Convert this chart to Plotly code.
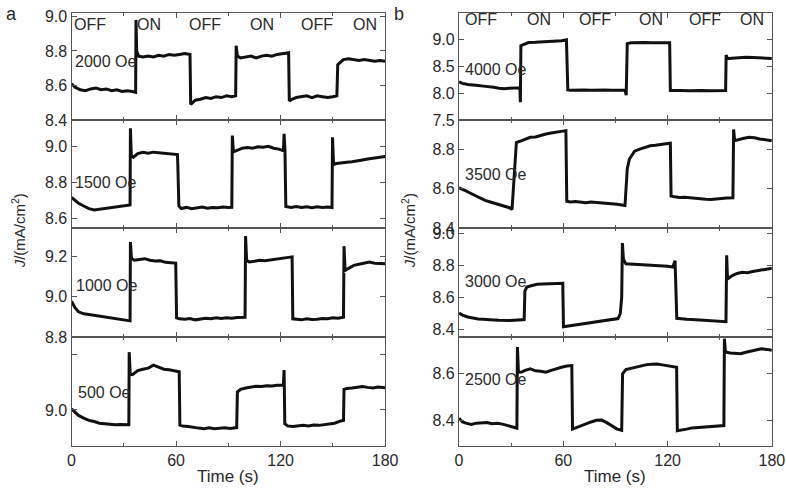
import plotly.graph_objects as go

# current density J (mA/cm^2) vs time (s)
oe2000 = [(0, 8.61), (2, 8.59), (5, 8.575), (8, 8.57), (11, 8.58), (14, 8.585), (17, 8.575), (20, 8.58),
          (23, 8.57), (26, 8.575), (29, 8.565), (32, 8.57), (35, 8.565), (36.8, 8.56), (37.0, 8.98), (37.4, 8.80),
          (38.5, 8.77), (41, 8.765), (44, 8.77), (47, 8.765), (50, 8.775), (53, 8.77), (56, 8.78), (59, 8.775),
          (62, 8.78), (65, 8.785), (68.0, 8.78), (68.4, 8.49), (69.5, 8.50), (71, 8.515), (74, 8.52), (77, 8.53),
          (80, 8.525), (83, 8.535), (86, 8.53), (89, 8.54), (92, 8.535), (94.2, 8.54), (94.5, 8.83), (95.2, 8.77),
          (97, 8.76), (100, 8.765), (103, 8.77), (106, 8.76), (109, 8.77), (112, 8.775), (115, 8.77), (118, 8.78),
          (121, 8.785), (124.6, 8.79), (125.0, 8.51), (126.5, 8.52), (129, 8.53), (132, 8.535), (135, 8.54),
          (138, 8.53), (141, 8.54), (144, 8.535), (147, 8.53), (150, 8.535), (152.3, 8.54), (152.8, 8.72),
          (154, 8.73), (156, 8.75), (159, 8.755), (162, 8.75), (165, 8.745), (168, 8.75), (171, 8.745),
          (174, 8.74), (177, 8.745), (180, 8.74)]

oe1500 = [(0, 8.717), (2, 8.70), (4, 8.685), (7, 8.67), (10, 8.655), (13, 8.648), (16, 8.652), (19, 8.655),
          (22, 8.656), (25, 8.662), (28, 8.668), (31, 8.672), (33.6, 8.675), (33.8, 9.10), (34.3, 8.95),
          (35.5, 8.94), (38, 8.96), (41, 8.967), (44, 8.962), (47, 8.968), (50, 8.965), (53, 8.962), (56, 8.96),
          (59, 8.957), (60.8, 8.955), (61.0, 8.90), (61.6, 8.67), (63, 8.656), (66, 8.662), (69, 8.655),
          (72, 8.66), (75, 8.664), (78, 8.658), (81, 8.662), (84, 8.66), (87, 8.664), (90, 8.661), (92.0, 8.662),
          (92.3, 9.06), (92.9, 8.97), (95, 8.978), (98, 8.99), (101, 8.994), (104, 8.99), (107, 8.998),
          (110, 8.995), (113, 9.0), (116, 8.99), (119, 8.985), (121.6, 8.976), (122.0, 9.07), (122.5, 8.98),
          (123.0, 8.667), (126, 8.662), (129, 8.667), (132, 8.662), (135, 8.665), (138, 8.66), (141, 8.665),
          (144, 8.662), (147, 8.664), (149.5, 8.661), (149.8, 9.05), (150.4, 8.90), (152, 8.905), (155, 8.91),
          (158, 8.912), (161, 8.915), (164, 8.918), (167, 8.925), (170, 8.93), (173, 8.935), (176, 8.94),
          (180, 8.944)]

oe1000 = [(0, 8.977), (2, 8.945), (4, 8.925), (7, 8.915), (10, 8.912), (13, 8.908), (16, 8.905), (19, 8.90),
          (22, 8.898), (25, 8.893), (28, 8.888), (31, 8.884), (33.6, 8.88), (33.8, 9.27), (34.4, 9.19),
          (36, 9.18), (39, 9.185), (42, 9.188), (45, 9.18), (48, 9.176), (51, 9.178), (54, 9.17), (57, 9.168),
          (59.8, 9.166), (60.3, 8.895), (62, 8.89), (65, 8.888), (68, 8.892), (71, 8.885), (74, 8.89),
          (77, 8.893), (80, 8.89), (83, 8.895), (86, 8.892), (89, 8.895), (92, 8.893), (95, 8.897),
          (99.6, 8.898), (99.9, 9.30), (100.5, 9.18), (102, 9.172), (105, 9.175), (108, 9.18), (111, 9.178),
          (114, 9.182), (117, 9.186), (120, 9.19), (123, 9.193), (126.6, 9.197), (127.0, 8.89), (129, 8.888),
          (132, 8.885), (135, 8.89), (138, 8.887), (141, 8.888), (144, 8.892), (147, 8.89), (150, 8.895),
          (153, 8.893), (156.1, 8.898), (156.4, 9.25), (157, 9.13), (159, 9.14), (162, 9.155), (165, 9.16),
          (168, 9.165), (171, 9.171), (174, 9.165), (177, 9.163), (180, 9.163)]

oe500 = [(0, 9.004), (2, 8.99), (4, 8.98), (7, 8.97), (10, 8.962), (13, 8.958), (16, 8.952), (19, 8.95),
         (22, 8.948), (25, 8.946), (28, 8.947), (31, 8.945), (32.9, 8.946), (33.1, 9.21), (33.7, 9.13),
         (35, 9.128), (38, 9.143), (41, 9.148), (44, 9.152), (47, 9.163), (50, 9.155), (53, 9.148), (56, 9.146),
         (59, 9.142), (61.8, 9.139), (62.2, 8.945), (64, 8.942), (67, 8.94), (70, 8.936), (73, 8.934),
         (76, 8.932), (79, 8.935), (82, 8.932), (85, 8.934), (88, 8.935), (91, 8.933), (94.8, 8.936),
         (95.2, 9.065), (97, 9.075), (100, 9.08), (103, 9.083), (106, 9.086), (109, 9.085), (112, 9.088),
         (115, 9.087), (118, 9.09), (121.6, 9.09), (122.0, 9.145), (122.4, 8.95), (124, 8.942), (127, 8.94),
         (130, 8.942), (133, 8.944), (136, 8.942), (139, 8.945), (142, 8.944), (145, 8.946), (148, 8.948),
         (151, 8.952), (155, 8.961), (156.1, 8.962), (156.4, 9.075), (158, 9.078), (161, 9.08), (164, 9.083),
         (167, 9.085), (170, 9.082), (173, 9.08), (176, 9.083), (180, 9.081)]

oe4000 = [(0, 8.21), (2, 8.18), (5, 8.16), (8, 8.145), (11, 8.14), (14, 8.13), (17, 8.125), (20, 8.11),
          (23, 8.09), (26, 8.08), (29, 8.09), (32, 8.095), (35.0, 8.10), (35.3, 7.83), (35.6, 8.88), (37, 8.90),
          (40, 8.94), (44, 8.945), (48, 8.95), (52, 8.955), (56, 8.96), (59, 8.975), (61.8, 8.99), (62.6, 8.06),
          (64, 8.055), (68, 8.06), (72, 8.06), (76, 8.055), (80, 8.06), (84, 8.06), (88, 8.055), (92, 8.06),
          (95.5, 8.055), (96.2, 7.96), (96.8, 8.92), (99, 8.935), (103, 8.94), (107, 8.94), (111, 8.935),
          (115, 8.94), (119, 8.94), (121.2, 8.935), (121.6, 8.05), (124, 8.055), (128, 8.05), (132, 8.045),
          (136, 8.05), (140, 8.05), (144, 8.045), (148, 8.05), (153.4, 8.05), (153.7, 8.71), (154.5, 8.64),
          (157, 8.65), (161, 8.66), (165, 8.665), (169, 8.66), (173, 8.66), (177, 8.65), (180, 8.645)]

oe3500 = [(0, 8.604), (2, 8.598), (4, 8.588), (6, 8.579), (9, 8.565), (12, 8.55), (15, 8.54), (18, 8.532),
          (21, 8.524), (24, 8.515), (27, 8.508), (29, 8.503), (30.5, 8.494), (31.5, 8.62), (33, 8.834),
          (35, 8.84), (38, 8.85), (41, 8.86), (44, 8.862), (47, 8.87), (50, 8.877), (53, 8.882), (56, 8.886),
          (59, 8.89), (61.5, 8.894), (62.0, 8.536), (64, 8.532), (67, 8.534), (70, 8.53), (73, 8.528),
          (76, 8.532), (79, 8.53), (82, 8.528), (85, 8.526), (88, 8.524), (91, 8.52), (95.5, 8.514),
          (96.8, 8.70), (98, 8.749), (101, 8.79), (104, 8.80), (107, 8.81), (110, 8.817), (113, 8.82),
          (116, 8.825), (119, 8.828), (121.6, 8.83), (122.0, 8.562), (124, 8.558), (127, 8.555), (130, 8.556),
          (133, 8.553), (136, 8.55), (139, 8.548), (142, 8.546), (145, 8.545), (148, 8.548), (151, 8.55),
          (154, 8.552), (157.6, 8.553), (158.0, 8.90), (158.6, 8.843), (161, 8.85), (164, 8.855), (167, 8.86),
          (170, 8.858), (173, 8.852), (176, 8.848), (180, 8.843)]

oe3000 = [(0, 8.502), (2, 8.49), (5, 8.478), (8, 8.47), (11, 8.466), (14, 8.464), (17, 8.464), (20, 8.46),
          (23, 8.458), (26, 8.455), (29, 8.456), (32, 8.458), (35, 8.46), (37.5, 8.462), (37.9, 8.64),
          (39, 8.665), (42, 8.675), (45, 8.682), (48, 8.684), (51, 8.686), (54, 8.688), (57, 8.689),
          (59.7, 8.689), (60.1, 8.417), (62, 8.42), (65, 8.425), (68, 8.428), (71, 8.434), (74, 8.44),
          (77, 8.445), (80, 8.449), (83, 8.452), (86, 8.456), (89, 8.462), (91.5, 8.468), (92.8, 8.50),
          (93.6, 8.60), (94.0, 8.94), (94.6, 8.84), (96, 8.81), (99, 8.808), (102, 8.806), (105, 8.804),
          (108, 8.806), (111, 8.802), (114, 8.8), (117, 8.798), (120, 8.795), (123, 8.79), (124.3, 8.83),
          (125.3, 8.47), (128, 8.466), (131, 8.464), (134, 8.462), (137, 8.46), (140, 8.458), (143, 8.455),
          (146, 8.452), (149, 8.45), (153.6, 8.449), (154.0, 8.864), (154.5, 8.715), (157, 8.735), (160, 8.75),
          (163, 8.757), (166, 8.755), (169, 8.762), (172, 8.768), (175, 8.775), (178, 8.78), (180, 8.783)]

oe2500 = [(0, 8.411), (2, 8.395), (4, 8.39), (7, 8.385), (10, 8.39), (13, 8.392), (16, 8.393), (19, 8.388),
          (22, 8.39), (25, 8.386), (28, 8.38), (31, 8.374), (33.3, 8.369), (33.6, 8.71), (34.2, 8.604),
          (36, 8.605), (38, 8.612), (41, 8.618), (44, 8.61), (47, 8.608), (50, 8.604), (53, 8.612), (56, 8.62),
          (59, 8.625), (62, 8.63), (64.9, 8.632), (65.3, 8.365), (67, 8.37), (70, 8.378), (73, 8.388),
          (76, 8.395), (79, 8.402), (82, 8.403), (85, 8.392), (88, 8.378), (91, 8.365), (93.6, 8.36),
          (94.1, 8.597), (96, 8.615), (99, 8.62), (102, 8.628), (105, 8.632), (108, 8.636), (111, 8.638),
          (114, 8.639), (117, 8.635), (120, 8.632), (123, 8.628), (125.2, 8.625), (125.6, 8.358), (128, 8.36),
          (131, 8.365), (134, 8.37), (137, 8.372), (140, 8.374), (143, 8.376), (146, 8.377), (149, 8.379),
          (152.4, 8.38), (152.7, 8.745), (153.3, 8.689), (156, 8.685), (159, 8.684), (162, 8.682), (165, 8.688),
          (168, 8.694), (171, 8.698), (174, 8.703), (177, 8.70), (180, 8.696)]

# label, data, y range, labelled y ticks, label position (t, J)
panels = [
    ("2000 Oe", oe2000, [8.4, 9.02], [8.4, 8.6, 8.8, 9.0], (1.0, 8.74)),
    ("1500 Oe", oe1500, [8.548, 9.146], [8.6, 8.8, 9.0], (1.0, 8.80)),
    ("1000 Oe", oe1000, [8.8, 9.34], [8.8, 9.0, 9.2], (1.5, 9.053)),
    ("500 Oe", oe500, [8.869, 9.265], [9.0], (2.5, 9.065)),
    ("4000 Oe", oe4000, [7.5, 9.49], [7.5, 8.0, 8.5, 9.0, 9.5], (2.5, 8.44)),
    ("3500 Oe", oe3500, [8.4, 8.948], [8.4, 8.6, 8.8], (2.0, 8.672)),
    ("3000 Oe", oe3000, [8.353, 9.034], [8.4, 8.6, 8.8, 9.0], (2.0, 8.70)),
    ("2500 Oe", oe2500, [8.294, 8.752], [8.4, 8.6], (2.0, 8.572)),
]

states = ["OFF", "ON", "OFF", "ON", "OFF", "ON"]
state_t_a = [10.5, 44.6, 76.6, 109.1, 140.7, 168.5]
state_t_b = [12.9, 46.1, 78.2, 110.3, 141.6, 168.5]

xdom = [[0.091, 0.490], [0.584, 0.982]]
ydom = [[0.7551, 0.9735], [0.5347, 0.7551], [0.3122, 0.5347], [0.0898, 0.3122]]

FONT = "Liberation Sans, Arial, sans-serif"
AX = "#555555"
TXT = "#2a2a2a"

fig = go.Figure()
annotations = []
layout = {}

for k, (name, data, yr, yt, lab) in enumerate(panels):
    col, row = k // 4, k % 4
    sfx = "" if k == 0 else str(k + 1)
    t = [p[0] for p in data]
    j = [p[1] for p in data]
    fig.add_trace(go.Scatter(x=t, y=j, mode="lines", line=dict(color="#111111", width=3),
                             xaxis="x" + sfx, yaxis="y" + sfx, showlegend=False))
    layout["xaxis" + sfx] = dict(
        domain=xdom[col], anchor="y" + sfx, range=[0, 180], tickvals=[0, 60, 120, 180],
        showticklabels=(row == 3), ticks="inside", ticklen=5, tickcolor=AX, mirror="ticks",
        showline=True, linecolor=AX, linewidth=1.2, showgrid=False, zeroline=False, automargin=False,
        minor=dict(dtick=30, tick0=0, ticks="inside", ticklen=3, tickcolor=AX),
        tickfont=dict(family=FONT, size=16, color=TXT))
    yax = dict(
        domain=ydom[row], anchor="x" + sfx, range=yr, tickvals=yt, ticktext=["%.1f" % v for v in yt],
        ticks="inside", ticklen=5, tickcolor=AX, mirror="ticks",
        showline=True, linecolor=AX, linewidth=1.2, showgrid=False, zeroline=False, automargin=False,
        tickfont=dict(family=FONT, size=16, color=TXT))
    if name == "500 Oe":
        # unlabelled tick at 9.2
        yax["minor"] = dict(dtick=0.2, tick0=9.0, ticks="inside", ticklen=5, tickcolor=AX)
    layout["yaxis" + sfx] = yax
    annotations.append(dict(x=lab[0], y=lab[1], xref="x" + sfx, yref="y" + sfx, text=name,
                            showarrow=False, xanchor="left", yanchor="middle",
                            font=dict(family=FONT, size=16, color=TXT)))
    if row == 0:
        st_t = state_t_a if col == 0 else state_t_b
        st_y = 8.955 if col == 0 else 9.36
        for s, ts in zip(states, st_t):
            annotations.append(dict(x=ts, y=st_y, xref="x" + sfx, yref="y" + sfx, text=s,
                                    showarrow=False, xanchor="center", yanchor="middle",
                                    font=dict(family=FONT, size=16, color=TXT)))

for xc, letter, xl, xt in [(0, "a", 0.015, 0.0229), (1, "b", 0.507, 0.519)]:
    annotations.append(dict(x=xl, y=0.972, xref="paper", yref="paper", text=letter, showarrow=False,
                            xanchor="center", yanchor="middle", font=dict(family=FONT, size=18, color=TXT)))
    annotations.append(dict(x=xt, y=0.53, xref="paper", yref="paper", text="<i>J</i>/(mA/cm<sup>2</sup>)",
                            showarrow=False, textangle=-90, xanchor="center", yanchor="middle",
                            font=dict(family=FONT, size=15, color=TXT)))
    annotations.append(dict(x=sum(xdom[xc]) / 2, y=0.028, xref="paper", yref="paper", text="Time (s)",
                            showarrow=False, xanchor="center", yanchor="middle",
                            font=dict(family=FONT, size=17, color=TXT)))

fig.update_layout(**layout)
fig.update_layout(width=786, height=490, margin=dict(l=0, r=0, t=0, b=0),
                  paper_bgcolor="white", plot_bgcolor="white", annotations=annotations)

# the page body has a default 8px margin; drop it so the figure fills the window
fig.write_html("out.html", config={"displayModeBar": False},
               post_script="document.body.style.margin='0';")
